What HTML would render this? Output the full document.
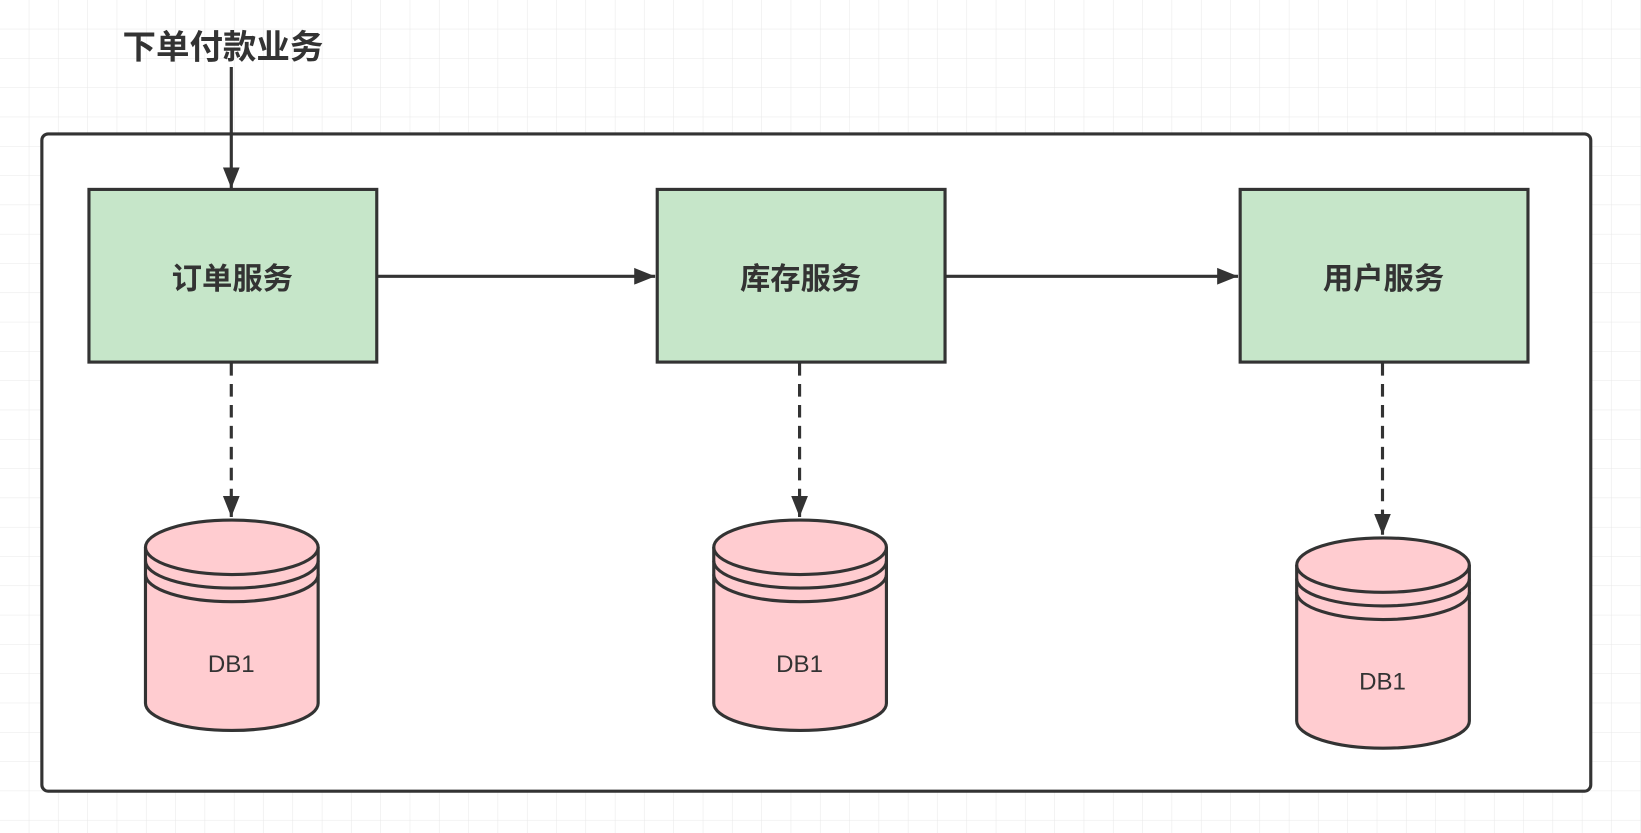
<!DOCTYPE html>
<html><head><meta charset="utf-8"><style>html,body{margin:0;padding:0;background:#fff}svg{display:block}</style></head>
<body>
<svg width="1641" height="833" viewBox="0 0 1568 796" preserveAspectRatio="none" xmlns="http://www.w3.org/2000/svg">
<defs>
<pattern id="g" width="28" height="28" patternUnits="userSpaceOnUse"><path d="M28 0V28M0 28H28" stroke="#e8e8e8" stroke-width="1" fill="none"/></pattern>
<marker id="b" viewBox="0 0 20 20" markerWidth="20" markerHeight="20" refX="20" refY="10" orient="auto" markerUnits="userSpaceOnUse"><path d="M0,2 L20,10 L0,18 Z" fill="#333"/></marker>
</defs>
<rect width="1568" height="796" fill="#fff"/>
<rect width="1568" height="796" fill="url(#g)"/>
<text x="213" y="56" text-anchor="middle" font-family="Liberation Sans,Noto Sans CJK SC,sans-serif" font-size="32" font-weight="bold" fill="#333">下单付款业务</text>
<rect x="40" y="128" width="1480" height="628" rx="6" fill="#fff" stroke="#333" stroke-width="3"/>
<line x1="221" y1="64" x2="221" y2="180" stroke="#333" stroke-width="3" marker-end="url(#b)"/>
<g fill="#c6e6c9" stroke="#333" stroke-width="3">
<rect x="85" y="181" width="275" height="165"/><rect x="628" y="181" width="275" height="165"/><rect x="1185" y="181" width="275" height="165"/>
</g>
<g font-family="Liberation Sans,Noto Sans CJK SC,sans-serif" font-size="29" font-weight="bold" fill="#333" text-anchor="middle">
<text x="222" y="276">订单服务</text><text x="765" y="276">库存服务</text><text x="1322" y="276">用户服务</text>
</g>
<line x1="361" y1="264" x2="626" y2="264" stroke="#333" stroke-width="3" marker-end="url(#b)"/>
<line x1="904" y1="264" x2="1183" y2="264" stroke="#333" stroke-width="3" marker-end="url(#b)"/>
<g stroke="#333" stroke-width="3" stroke-dasharray="12,8">
<line x1="221" y1="347" x2="221" y2="494" marker-end="url(#b)"/>
<line x1="764" y1="347" x2="764" y2="494" marker-end="url(#b)"/>
<line x1="1321" y1="347" x2="1321" y2="511" marker-end="url(#b)"/>
</g>
<g id="c1" fill="#ffccd0" stroke="#333" stroke-width="3">
<path d="M139,523 A82.5,26 0 0 1 304,523 V672 A82.5,26 0 0 1 139,672 Z"/>
<path d="M139,523 A82.5,26 0 0 0 304,523" fill="none"/>
<path d="M139,536 A82.5,26 0 0 0 304,536" fill="none"/>
<path d="M139,549 A82.5,26 0 0 0 304,549" fill="none"/>
</g>
<use href="#c1" transform="translate(543,0)"/>
<use href="#c1" transform="translate(1100,17)"/>
<g font-family="Liberation Sans,sans-serif" font-size="23" fill="#333" text-anchor="middle">
<text x="221" y="642">DB1</text><text x="764" y="642">DB1</text><text x="1321" y="659">DB1</text>
</g>
</svg>
</body></html>
